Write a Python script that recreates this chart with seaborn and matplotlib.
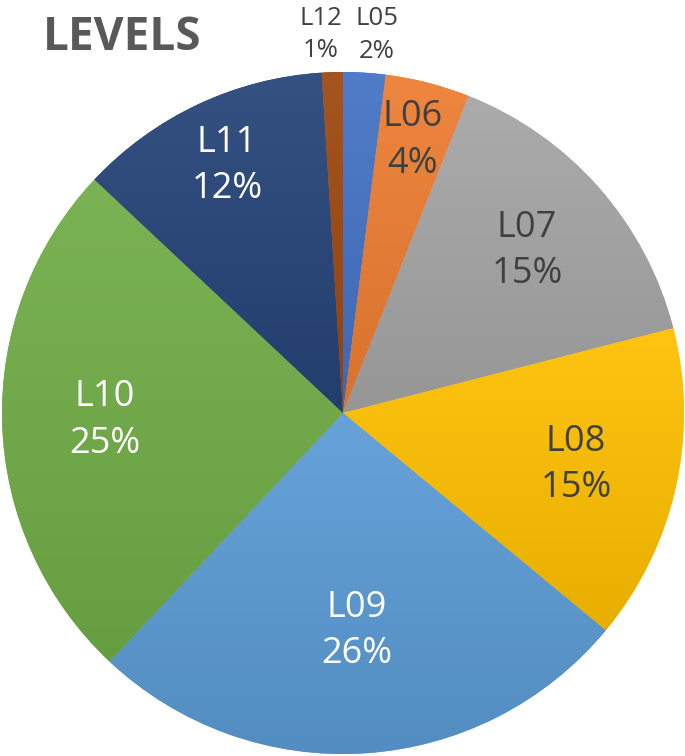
import numpy as np
import matplotlib
matplotlib.use("Agg")
import matplotlib.pyplot as plt
from matplotlib.colors import LinearSegmentedColormap, to_rgb
import seaborn as sns

# Data
levels = ["L05", "L06", "L07", "L08", "L09", "L10", "L11", "L12"]
shares = [2, 4, 15, 15, 26, 25, 12, 1]
colors = ["#4472C4", "#ED7D31", "#A5A5A5", "#FFC000",
          "#5B9BD5", "#70AD47", "#264478", "#9E480E"]
text_colors = ["#404040", "#404040", "#404040", "#404040",
               "white", "white", "white", "#404040"]

# label placement (fraction of radius) and small x nudges for outside labels
label_r = [1.11, 0.825, 0.72, 0.70, 0.64, 0.70, 0.80, 1.11]
label_dx = [0.03, 0, 0, 0, 0, 0, 0, -0.03]

sns.set_style("white")
plt.rcParams["font.family"] = ["Open Sans", "DejaVu Sans"]

fig = plt.figure(figsize=(6.85, 7.56), dpi=100)
W, H = 685, 756
cx, cy, R = 343, 413, 341
ax = fig.add_axes([(cx - R) / W, 1 - (cy + R) / H, 2 * R / W, 2 * R / H])

wedges, _ = ax.pie(shares, colors=colors, startangle=90, counterclock=False,
                   wedgeprops=dict(linewidth=0))

# soft vertical gradient on each slice, lighter at the top
grad = np.linspace(0, 1, 256).reshape(-1, 1)
for w, c in zip(wedges, colors):
    base = np.array(to_rgb(c))
    light = base + (1 - base) * 0.07
    dark = base * 0.91
    cmap = LinearSegmentedColormap.from_list("g", [dark, light])
    v = w.get_path().vertices
    im = ax.imshow(grad, extent=[v[:, 0].min(), v[:, 0].max(), v[:, 1].min(), v[:, 1].max()],
                   origin="lower", cmap=cmap, aspect="auto", zorder=w.get_zorder() + 0.1)
    im.set_clip_path(w)

for w, name, val, r, dx, tc in zip(wedges, levels, shares, label_r, label_dx, text_colors):
    ang = np.deg2rad((w.theta1 + w.theta2) / 2)
    x = r * np.cos(ang) + dx
    y = r * np.sin(ang)
    outside = r > 1
    ax.text(x, y, f"{name}\n{val}%", ha="center", va="center", color=tc,
            fontsize=18.5 if outside else 26, linespacing=1.4 if outside else 1.38,
            zorder=10)

ax.set_xlim(-1, 1)
ax.set_ylim(-1, 1)
ax.set_aspect("equal")
ax.axis("off")

fig.text(43 / W, 1 - 50 / H, "LEVELS", fontsize=33, fontweight="bold",
         color="#595959", ha="left", va="baseline")

fig.savefig("out.png", dpi=100)
plt.close(fig)
